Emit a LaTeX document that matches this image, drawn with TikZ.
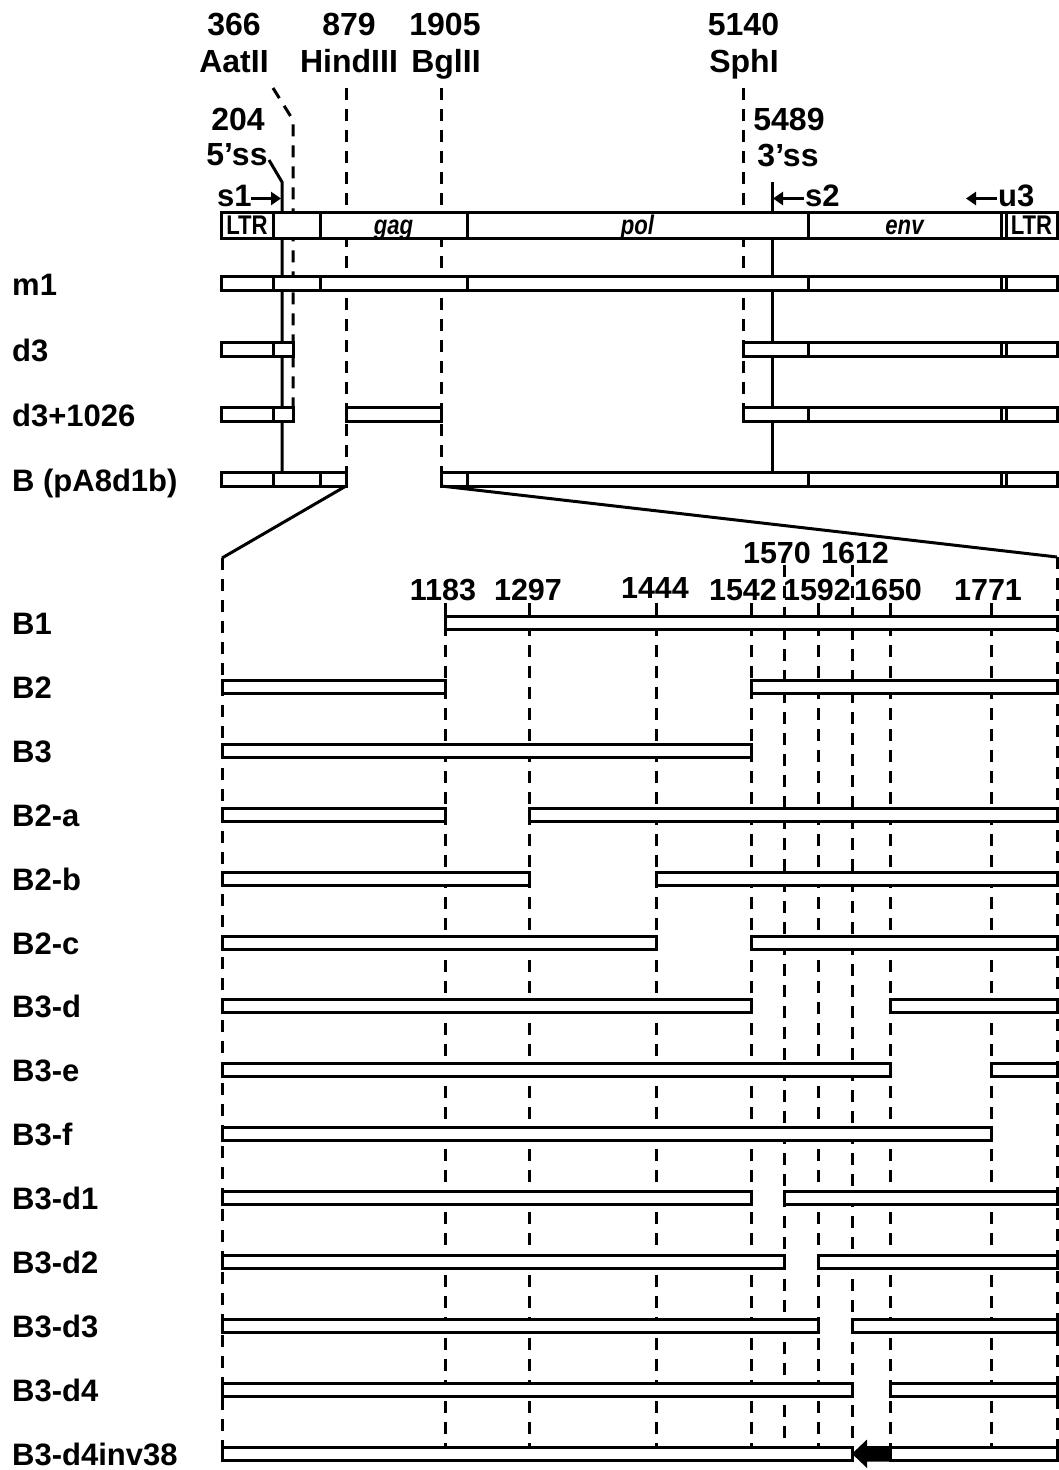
\documentclass[tikz,border=0pt]{standalone}
\usepackage{fontspec}
\setmainfont{Liberation Sans}
\usetikzlibrary{arrows.meta}
\begin{document}
\begin{tikzpicture}[x=1pt,y=-1pt,
  lab/.style={font=\fontsize{32}{36}\selectfont\bfseries, inner sep=0pt, anchor=base},
  rowlab/.style={font=\fontsize{31}{36}\selectfont\bfseries, inner sep=0pt, anchor=base west},
  num/.style={font=\fontsize{30.5}{34}\selectfont\bfseries, inner sep=0pt, anchor=base},
  boxlab/.style={font=\fontsize{27}{30}\selectfont\bfseries, inner sep=0pt, anchor=base},
  seg/.style={draw, line width=3pt, fill=white},
  dsh/.style={line width=3pt, dash pattern=on 12pt off 9pt},
  sol/.style={line width=3pt},
  arr/.style={line width=3.5pt, -{Triangle[length=10pt,width=13pt]}}
]
\useasboundingbox (0,0) rectangle (1059,1470);

% ---------- top section: guide lines ----------
\coordinate (ss5a) at (269,160);
\coordinate (ss5b) at (282,182);
\coordinate (ss5c) at (282,472);
\draw[sol] (ss5a) -- (ss5b) -- (ss5c);
\coordinate (aat0) at (273,88);
\coordinate (aat1) at (293,120);
\coordinate (aat2) at (293,407);
\draw[dsh] (aat0) -- (aat1) -- (aat2);
\coordinate (hin0) at (346,88);
\coordinate (hin1) at (346,472);
\draw[dsh] (hin0) -- (hin1);
\coordinate (bgl0) at (441,88);
\coordinate (bgl1) at (441,472);
\draw[dsh] (bgl0) -- (bgl1);
\coordinate (sph0) at (743,88);
\coordinate (sph1) at (743,407);
\draw[dsh] (sph0) -- (sph1);
\coordinate (ss3a) at (772,182);
\coordinate (ss3b) at (772,472);
\draw[sol] (ss3a) -- (ss3b);

% ---------- genome bar ----------
\foreach \a/\b in {221/273,273/320,320/467,467/808,808/1001,1001/1006,1006/1057}
  \draw[seg] (\a,212.5) rectangle (\b,238.5);
\node[boxlab] (ltr1) at (247,234.5) {\scalebox{0.82}[1]{LTR}};
\node[boxlab] (ltr2) at (1031.5,234.5) {\scalebox{0.82}[1]{LTR}};
\node[boxlab, font=\fontsize{27}{30}\selectfont\bfseries\itshape] (gag) at (393.5,234) {\scalebox{0.82}[1]{gag}};
\node[boxlab, font=\fontsize{27}{30}\selectfont\bfseries\itshape] (pol) at (637.5,234) {\scalebox{0.82}[1]{pol}};
\node[boxlab, font=\fontsize{27}{30}\selectfont\bfseries\itshape] (env) at (904.5,234) {\scalebox{0.82}[1]{env}};

% ---------- top rows ----------
\foreach \a/\b in {221/273,273/320,320/467,467/808,808/1001,1001/1006,1006/1057}
  \draw[seg] (\a,276) rectangle (\b,290);
\foreach \a/\b in {221/273,273/293,743/808,808/1001,1001/1006,1006/1057}
  \draw[seg] (\a,342) rectangle (\b,356);
\foreach \a/\b in {221/273,273/293,346/441,743/808,808/1001,1001/1006,1006/1057}
  \draw[seg] (\a,407) rectangle (\b,421);
\foreach \a/\b in {221/273,273/320,320/346,441/467,467/808,808/1001,1001/1006,1006/1057}
  \draw[seg] (\a,472) rectangle (\b,486);

% ---------- top labels ----------
\node[lab] (n366) at (234,35) {366};
\node[lab] (aatii) at (234,72) {AatII};
\node[lab] (n879) at (349,35) {879};
\node[lab] (hindiii) at (349,72) {HindIII};
\node[lab] (n1905) at (445,35) {1905};
\node[lab] (bglii) at (446,72) {BglII};
\node[lab] (n5140) at (743.5,35) {5140};
\node[lab] (sphi) at (744,72) {SphI};
\node[lab] (n204) at (238,130) {204};
\node[lab] (ss5) at (237,165) {5’ss};
\node[lab] (n5489) at (789,130) {5489};
\node[lab] (ss3) at (788,166) {3’ss};

\node[rowlab, font=\fontsize{31}{34}\selectfont\bfseries] (s1) at (217,206) {s1};
\coordinate (s1a) at (251,198.5);
\coordinate (s1b) at (281,198.5);
\draw[arr] (s1a) -- (s1b);
\node[rowlab, font=\fontsize{31}{34}\selectfont\bfseries] (s2) at (805,206) {s2};
\coordinate (s2a) at (804,198.5);
\coordinate (s2b) at (773,198.5);
\draw[arr] (s2a) -- (s2b);
\node[rowlab, font=\fontsize{31}{34}\selectfont\bfseries] (u3) at (998,206) {u3};
\coordinate (u3a) at (997,198.5);
\coordinate (u3b) at (966,198.5);
\draw[arr] (u3a) -- (u3b);

% ---------- row labels (top) ----------
\node[rowlab] (rm1) at (12,295) {m1};
\node[rowlab] (rd3) at (12,361) {d3};
\node[rowlab] (rd3p) at (12,426) {d3+1026};
\node[rowlab] (rB) at (12,491) {B (pA8d1b)};

% ---------- expansion lines ----------
\coordinate (eL0) at (346,486);
\coordinate (eL1) at (222,558);
\coordinate (eL2) at (222,1447);
\coordinate (eR0) at (441,486);
\coordinate (eR1) at (1057,557);
\coordinate (eR2) at (1057,1447);
\draw[sol] (eL0) -- (eL1);
\draw[sol] (eR0) -- (eR1);
\draw[dsh] (eL1) -- (eL2);
\draw[dsh] (eR1) -- (eR2);

\foreach \x/\t in {445/603,529/603,656/603,751/603,784/565,818/603,852/565,890/603,991/603}
  \draw[dsh] (\x,\t) -- (\x,1447);

% ---------- position labels ----------
\node[num] (p1183) at (443,600) {1183};
\node[num] (p1297) at (528,600) {1297};
\node[num] (p1444) at (655,598) {1444};
\node[num] (p1542) at (743,600) {1542};
\node[num] (p1592) at (817,600) {1592};
\node[num] (p1650) at (888,600) {1650};
\node[num] (p1771) at (988,600) {1771};
\node[num] (p1570) at (777,563) {1570};
\node[num] (p1612) at (855,563) {1612};

% ---------- bottom rows ----------
\foreach \y/\a/\b in {
  623/445/1057,
  686.9/222/445, 686.9/751/1057,
  750.8/222/751,
  814.7/222/445, 814.7/529/1057,
  878.6/222/529, 878.6/656/1057,
  942.5/222/656, 942.5/751/1057,
  1006.4/222/751, 1006.4/890/1057,
  1070.3/222/890, 1070.3/991/1057,
  1134.2/222/991,
  1198.1/222/751, 1198.1/784/1057,
  1262/222/784, 1262/818/1057,
  1325.9/222/818, 1325.9/852/1057,
  1389.8/222/852, 1389.8/890/1057,
  1453.7/222/852, 1453.7/890/1057}
  \draw[seg] (\a,{\y-6.5}) rectangle (\b,{\y+6.5});

% inverted segment arrow
\fill (890,1446) -- (867,1446) -- (867,1439.5) -- (852,1453.7) -- (867,1468) -- (867,1461.5) -- (890,1461.5) -- cycle;

% ---------- row labels (bottom) ----------
\foreach \y/\t [count=\i] in {623/B1, 686.9/B2, 750.8/B3, 814.7/B2-a, 878.6/B2-b, 942.5/B2-c,
  1006.4/B3-d, 1070.3/B3-e, 1134.2/B3-f, 1198.1/B3-d1, 1262/B3-d2, 1325.9/B3-d3,
  1389.8/B3-d4, 1453.7/B3-d4inv38}
  \node[rowlab] (row\i) at (12,{\y+11.5}) {\t};
\end{tikzpicture}
\end{document}
